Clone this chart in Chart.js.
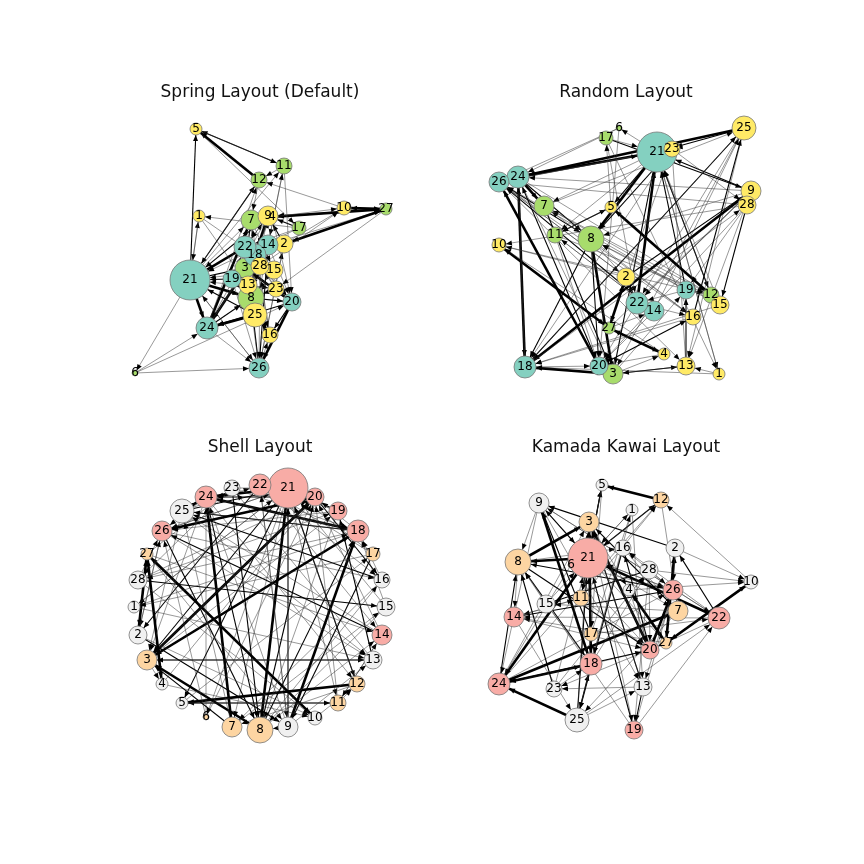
<!DOCTYPE html>
<html>
<head>
<meta charset="utf-8">
<script src="https://cdn.jsdelivr.net/npm/chart.js@4/dist/chart.umd.min.js"></script>
<style>
  body { margin:0; background:#fff; }
  #wrap { position:relative; width:864px; height:864px; }
  canvas { position:absolute; }
  .tit { position:absolute; width:432px; text-align:center; font-family:"DejaVu Sans"; font-size:17px; color:#111; }
</style>
</head>
<body>
<div id="wrap">
  <canvas id="c0" style="left:0;top:0"></canvas>
  <canvas id="c1" style="left:432px;top:0"></canvas>
  <canvas id="c2" style="left:0;top:432px"></canvas>
  <canvas id="c3" style="left:432px;top:432px"></canvas>
  <div class="tit" style="left:44px;top:81px">Spring Layout (Default)</div>
  <div class="tit" style="left:410px;top:81px">Random Layout</div>
  <div class="tit" style="left:44px;top:436px">Shell Layout</div>
  <div class="tit" style="left:410px;top:436px">Kamada Kawai Layout</div>
</div>
<script>
// nodes 1..28
let nodos = [1,2,3,4,5,6,7,8,9,10,11,12,13,14,15,16,17,18,19,20,21,22,23,24,25,26,27,28]
let radios = [6,9,10,6,6,3,10,13,10,7,8,8,9,10,9,8,7,11,9,9,20,11,8,11,12,10,6,9]
// 0 = grupo A (teal/rosa), 1 = grupo B (verde/durazno), 2 = grupo C (amarillo/gris)
let grupos = [2,2,1,2,2,1,1,1,2,2,1,1,2,0,2,2,1,0,0,0,0,0,2,0,2,0,1,2]
let coloresArriba = ["#84d0c0","#a8dc6c","#ffea66"]
let coloresAbajo = ["#f8aca6","#fdd5a2","#f0f0f0"]

// posiciones (pixeles de la imagen)
let springX = [199,284,245,272,196,135,251,251,268,344,284,259,248,268,274,270,299,255,232,292,190,245,276,207,255,259,386,260]
let springY = [216,244,268,217,129,373,220,298,216,208,166,180,285,245,270,335,228,255,279,302,280,247,289,328,315,368,209,266]
let randomX = [719,626,613,664,611,619,544,591,751,499,555,711,686,654,720,693,606,525,686,599,657,637,672,518,744,499,609,747]
let randomY = [374,277,374,354,207,128,206,239,191,245,235,295,366,311,305,317,138,367,290,366,152,303,149,177,128,182,328,205]
let shellX = [134,138,147,162,182,206,232,260,288,315,338,357,373,382,386,382,373,358,338,315,288,260,232,206,182,162,147,138]
let shellY = [607,635,660,684,703,717,727,730,727,718,703,684,660,635,607,580,554,531,511,497,488,485,488,497,511,531,554,580]
let kamadaX = [632,675,589,629,602,571,678,518,539,751,581,661,643,514,546,623,591,591,634,650,588,719,554,499,577,673,666,649]
let kamadaY = [510,548,522,590,485,565,611,562,503,582,598,500,687,617,604,548,634,664,730,650,558,618,689,684,720,590,643,570]

// aristas [origen, destino, peso]
let aristas = [
 [21,1,1],[21,5,2],[21,24,3],[21,26,1],[21,6,1],[21,3,2],[21,7,1],[21,8,3],[21,11,1],[21,12,2],
 [22,21,3],[22,14,1],[22,2,2],[22,9,1],[22,20,1],[24,7,3],[24,8,2],[24,26,1],[24,18,3],[24,12,1],
 [25,21,2],[25,24,3],[25,13,1],[25,3,1],[25,18,2],[25,22,1],[26,21,1],[26,8,2],[26,16,1],[26,2,1],
 [27,10,3],[27,9,1],[27,4,2],[27,2,1],[27,14,1],[27,23,1],[28,15,2],[28,20,1],[28,26,1],[3,18,3],
 [3,20,3],[3,19,1],[3,4,1],[3,13,2],[8,3,3],[8,18,2],[8,16,1],[8,14,1],[8,20,2],[9,24,1],
 [9,21,2],[9,8,1],[9,18,3],[9,22,1],[10,27,2],[10,12,1],[11,5,2],[11,12,1],[11,14,1],[12,5,3],
 [12,7,1],[13,23,1],[13,19,2],[14,11,1],[14,26,2],[15,21,1],[15,18,1],[16,25,2],[16,7,1],[17,22,1],
 [17,9,2],[17,21,1],[18,3,2],[18,20,1],[18,24,1],[18,25,1],[19,21,2],[19,26,1],[19,8,1],[20,26,3],
 [20,16,2],[20,3,1],[2,27,3],[2,10,1],[2,9,2],[2,26,1],[1,21,1],[1,18,1],[4,27,3],[4,10,1],
 [4,20,1],[5,11,1],[5,17,1],[6,24,1],[6,20,1],[6,26,1],[7,3,2],[7,15,1],[7,25,1],[23,21,1],
 [23,8,2],[23,28,1],[23,18,1],[13,3,1],[14,20,1],[16,18,1],[12,21,1],[28,10,1],[15,8,1],[19,22,1],[17,1,1],
 [24,3,1],[26,13,1],[22,16,1],[18,28,1],[20,24,2],[14,25,1],[9,13,1],[28,19,1],[11,20,1],[1,13,1]
]
let grosores = {1:0.5, 2:1.1, 3:2.6}

const pluginGrafo = {
  id: "grafo",
  beforeDatasetsDraw(chart) {
    const ctx = chart.ctx, xs = chart.scales.x, ys = chart.scales.y
    const d = chart.data.datasets[0].data
    aristas.forEach(a => {
      const p = d[a[0]-1], q = d[a[1]-1]
      const x1 = xs.getPixelForValue(p.x), y1 = ys.getPixelForValue(p.y)
      const x2 = xs.getPixelForValue(q.x), y2 = ys.getPixelForValue(q.y)
      const ang = Math.atan2(y2-y1, x2-x1)
      const ex = x2 - Math.cos(ang)*q.r, ey = y2 - Math.sin(ang)*q.r
      ctx.save()
      ctx.strokeStyle = a[2]==1 ? "#333" : "#000"
      ctx.fillStyle = "#000"
      ctx.lineWidth = grosores[a[2]]
      ctx.beginPath(); ctx.moveTo(x1,y1); ctx.lineTo(ex,ey); ctx.stroke()
      const L = 6, W = 2.5
      ctx.beginPath()
      ctx.moveTo(ex,ey)
      ctx.lineTo(ex - Math.cos(ang)*L + Math.sin(ang)*W, ey - Math.sin(ang)*L - Math.cos(ang)*W)
      ctx.lineTo(ex - Math.cos(ang)*L - Math.sin(ang)*W, ey - Math.sin(ang)*L + Math.cos(ang)*W)
      ctx.closePath(); ctx.fill()
      ctx.restore()
    })
  },
  afterDatasetsDraw(chart) {
    const ctx = chart.ctx, xs = chart.scales.x, ys = chart.scales.y
    ctx.save()
    ctx.font = "12px 'DejaVu Sans'"
    ctx.fillStyle = "#000"
    ctx.textAlign = "center"; ctx.textBaseline = "middle"
    chart.data.datasets[0].data.forEach((p,i) => {
      ctx.fillText(String(nodos[i]), xs.getPixelForValue(p.x), ys.getPixelForValue(p.y))
    })
    ctx.restore()
  }
}

function crearGrafo(id, px, py, colores, ox, oy) {
  const cv = document.getElementById(id)
  cv.width = 432; cv.height = 432
  cv.style.width = "432px"; cv.style.height = "432px"
  const puntos = nodos.map((n,i) => ({x: px[i], y: py[i], r: radios[i]}))
  new Chart(cv.getContext("2d"), {
    type: "bubble",
    data: { datasets: [{
      data: puntos,
      backgroundColor: grupos.map(g => colores[g]),
      borderColor: "#777",
      borderWidth: 0.8,
      clip: false
    }]},
    options: {
      responsive: false, animation: false,
      devicePixelRatio: 1,
      layout: { padding: 0, autoPadding: false },
      plugins: { legend: {display:false}, tooltip: {enabled:false}, title: {display:false} },
      scales: {
        x: { display:false, min: ox, max: ox+432 },
        y: { display:false, min: oy, max: oy+432, reverse: true }
      }
    },
    plugins: [pluginGrafo]
  })
}

crearGrafo("c0", springX, springY, coloresArriba, 0, 0)
crearGrafo("c1", randomX, randomY, coloresArriba, 432, 0)
crearGrafo("c2", shellX, shellY, coloresAbajo, 0, 432)
crearGrafo("c3", kamadaX, kamadaY, coloresAbajo, 432, 432)
</script>
</body>
</html>
